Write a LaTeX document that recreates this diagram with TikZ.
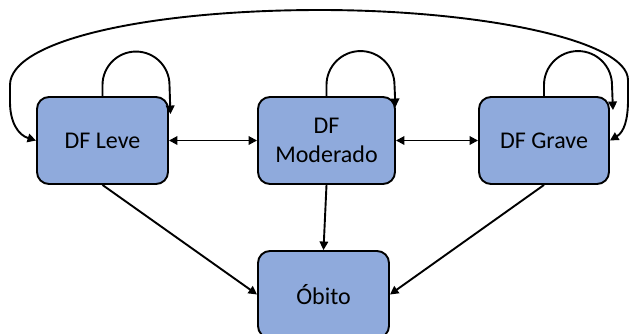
\documentclass[tikz,border=0pt]{standalone}
\usepackage{fontspec}
\setmainfont{Carlito}
\usetikzlibrary{arrows.meta,calc}
\definecolor{boxblue}{HTML}{8FAADC}
\begin{document}
\begin{tikzpicture}[x=1pt,y=-1pt,
  state/.style={draw=black,line width=1.9pt,fill=boxblue,rounded corners=12pt,
    minimum height=87pt,align=center,inner sep=2pt,
    font=\fontsize{24}{29}\selectfont},
  conn/.style={line width=1.9pt,-{Triangle[length=8.5pt,width=8.5pt]}},
  bconn/.style={line width=1.9pt,{Triangle[length=8.5pt,width=8.5pt]}-{Triangle[length=8.5pt,width=8.5pt]}}]
\useasboundingbox (0,0) rectangle (630,333);
\node[state,minimum width=131pt] (Leve) at (102.5,140.5) {DF Leve};
\node[state,minimum width=137pt] (Mod) at (326.5,140.5) {DF\\Moderado};
\node[state,minimum width=130pt] (Grave) at (544,140.5) {DF Grave};
\node[state,minimum width=131pt] (Obito) at (323.5,294.5) {Óbito};
% horizontal double arrows
\draw[bconn] (Leve.east) -- (Mod.west);
\draw[bconn] (Mod.east) -- (Grave.west);
% to Obito
\draw[conn] (Leve.south) -- (Obito.west);
\draw[conn] (Mod.south) -- (Obito.north);
\draw[conn] (Grave.south) -- (Obito.east);
% self loops
\draw[conn] (Leve.north) -- ++(0,-11) arc[start angle=180,end angle=360,radius=33.5]
  -- ([xshift=1.5pt,yshift=-18pt]Leve.north east);
\draw[conn] (Mod.north) -- ++(0,-11) arc[start angle=180,end angle=360,radius=34]
  -- ([xshift=-0.5pt,yshift=-11pt]Mod.north east);
\draw[conn] (Grave.north) -- ++(0,-11) arc[start angle=180,end angle=360,radius=34]
  -- ([xshift=3pt,yshift=-14pt]Grave.north east);
% big arc
\draw[bconn] (Leve.west) .. controls (18,135) and (10,122) .. (10,102)
  -- (10,85) .. controls (10,40) and (150,10) .. (320,10)
  .. controls (480,10) and (628,40) .. (628,80)
  -- (628,100) .. controls (628,120) and (624,132) .. (Grave.east);
\end{tikzpicture}
\end{document}
